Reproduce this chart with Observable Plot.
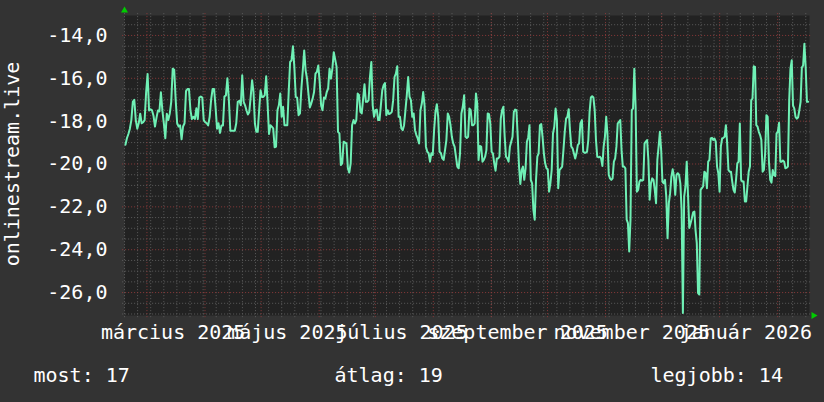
<!DOCTYPE html>
<html><head><meta charset="utf-8">
<script src="https://cdn.jsdelivr.net/npm/d3@7"></script>
<script src="https://cdn.jsdelivr.net/npm/@observablehq/plot@0.6"></script>
<style>
html,body{margin:0;padding:0;background:#333333;}
#chart{width:824px;height:402px;}
</style></head><body><div id="chart"></div>
<script>
// ---- data ----
const startDate = "2025-02-17";
const endDate = "2026-02-18";
// series values, read in six consecutive stretches of roughly two months
const s1 = [-19.1, -18.8, -18.6, -18.35, -17.95, -17.1, -17.0, -17.95, -18.35, -18.1, -17.65, -18.1, -18.05, -17.95, -16.65, -15.8, -17.5, -17.45, -17.5, -17.75, -18.25, -17.85, -17.5, -17.55, -16.65, -17.5, -18.1, -18.8, -17.65, -17.95, -17.65, -17.1, -15.55, -15.6, -17.0, -18.1, -18.25, -18.2, -18.85, -18.25, -18.1, -16.6, -16.5, -16.5, -17.5, -17.9, -17.8, -17.9, -17.4, -17.9, -16.9, -16.85, -16.9, -17.95, -18.05, -18.1, -18.2, -17.8, -17.0, -16.5, -16.5, -17.35, -18.35, -18.1, -18.55, -18.2, -18.2, -16.85, -16.8, -16.0, -17.0, -18.45, -18.45, -18.45, -18.45, -18.1, -17.1];
const s2 = [-17.05, -17.26, -15.86, -17.1, -17.26, -17.49, -17.69, -17.57, -16.87, -16.09, -16.64, -18.11, -18.5, -18.5, -17.49, -16.56, -16.87, -16.87, -16.79, -15.91, -17.18, -18.6, -18.19, -18.26, -18.34, -19.22, -19.19, -17.49, -17.26, -16.71, -17.8, -17.33, -18.19, -18.19, -18.19, -16.64, -15.24, -15.16, -14.51, -15.47, -16.87, -16.9, -17.72, -17.64, -16.48, -15.63, -14.7, -15.63, -16.02, -16.71, -17.36, -17.18, -16.95, -16.64, -15.78, -15.7, -15.4, -16.17, -17.26, -17.49, -16.9, -16.95, -16.64, -16.48, -15.55, -16.02, -15.55, -14.78, -15.13, -15.47, -18.5, -18.57, -20.05, -19.97, -18.96, -19.0, -19.04, -20.2, -20.4, -19.97, -18.19];
const s3 = [-17.95, -18.11, -17.95, -16.71, -16.79, -17.57, -17.64, -16.95, -16.28, -17.1, -17.1, -17.02, -15.94, -15.24, -17.26, -17.8, -17.49, -17.46, -17.95, -17.95, -17.26, -16.56, -16.33, -16.22, -17.72, -17.49, -17.67, -17.64, -17.57, -17.02, -15.94, -15.78, -15.44, -17.8, -17.8, -18.34, -18.42, -18.19, -17.49, -16.79, -15.94, -16.87, -17.02, -17.8, -17.64, -18.42, -18.65, -18.81, -19.04, -17.49, -17.18, -16.64, -17.26, -19.19, -19.43, -19.5, -19.89, -19.5, -19.58, -18.42, -17.57, -17.21, -17.8, -19.43, -19.5, -19.74, -19.81, -19.35, -18.88, -17.64, -17.8, -18.19, -18.73, -19.04, -19.19, -19.66, -20.12, -20.2, -19.5, -17.64, -17.33, -16.79, -18.73];
const s4 = [-18.78, -18.73, -17.41, -17.49, -18.19, -18.19, -18.11, -16.71, -17.18, -19.81, -19.16, -19.19, -19.89, -19.81, -19.66, -19.35, -17.64, -17.67, -18.11, -19.43, -19.5, -19.97, -20.31, -19.74, -19.74, -19.66, -17.88, -17.49, -17.33, -18.73, -19.66, -19.74, -19.89, -19.19, -18.96, -18.73, -17.57, -17.46, -17.49, -18.73, -20.12, -20.93, -20.28, -20.12, -20.74, -20.2, -18.96, -18.76, -18.19, -20.74, -20.9, -22.14, -22.6, -20.74, -19.66, -19.5, -18.19, -18.14, -18.73, -19.5, -19.97, -20.2, -20.25, -21.29, -20.9, -20.28, -18.57, -18.26, -17.41, -17.95, -21.13, -20.28, -20.2, -20.12, -19.35, -18.5, -17.88, -17.8, -17.44, -18.42, -19.19, -19.27, -19.5, -19.74, -19.5, -19.12, -19.04, -18.11];
const s5 = [-17.95, -19.43, -19.47, -19.47, -19.43, -18.88, -17.57, -16.9, -16.84, -16.9, -17.49, -18.88, -19.66, -19.69, -19.66, -19.74, -20.09, -19.19, -18.73, -17.8, -18.65, -20.51, -20.67, -20.74, -20.67, -19.89, -19.74, -19.19, -18.11, -18.03, -17.95, -19.35, -20.12, -20.12, -20.2, -22.6, -22.76, -24.08, -22.6, -17.49, -17.41, -15.55, -17.33, -21.29, -21.21, -20.82, -20.74, -20.78, -20.74, -19.04, -18.96, -18.88, -19.81, -21.67, -20.9, -20.67, -20.74, -21.21, -21.83, -19.81, -19.19, -18.5, -19.35, -20.82, -20.9, -20.74, -21.52, -23.46, -21.83, -21.36, -20.59, -20.25, -20.59, -21.44, -20.51, -20.43, -20.51, -20.9, -22.14, -26.95, -21.52, -21.05, -19.89, -21.44, -22.99, -22.76, -22.53, -22.26, -22.22];
const s6 = [-23.07, -23.69, -26.02, -26.09, -21.21, -21.13, -21.05, -20.36, -20.43, -21.13, -19.89, -19.81, -18.81, -18.78, -18.88, -18.81, -18.96, -20.12, -20.43, -21.29, -19.19, -18.81, -18.78, -18.73, -18.19, -19.04, -20.28, -20.36, -20.36, -20.82, -21.21, -21.33, -20.74, -19.97, -19.89, -18.11, -20.74, -20.82, -20.82, -21.75, -21.75, -21.05, -20.36, -20.12, -17.02, -16.95, -15.44, -15.47, -18.19, -18.26, -18.5, -18.65, -18.88, -20.36, -20.28, -19.5, -17.72, -17.8, -19.89, -20.74, -20.87, -20.28, -20.51, -20.56, -18.57, -18.5, -18.08, -19.89, -19.89, -19.84, -19.89, -20.2, -20.17, -20.12, -17.02, -15.55, -15.16, -17.26, -17.41, -17.8, -17.88, -17.83, -17.49, -17.1, -15.5, -15.4, -14.39, -15.47, -17.1, -17.1];
// first / last day (days after startDate) of each stretch
const stretchStartDay = [0.5, 61.4, 122.4, 182.9, 244.4, 305.1];
const stretchEndDay = [60.5, 121.6, 182.2, 243.6, 304.5, 365.3];

const yMin = -27.07, yMax = -13.07;
const yMajorTicks = [-26, -24, -22, -20, -18, -16, -14];
const xLabelDates = ["2025-03-15", "2025-05-15", "2025-07-15", "2025-09-15", "2025-11-15", "2026-01-15"];
const xLabelTexts = ["március 2025", "május 2025", "július 2025", "szeptember 2025", "november 2025", "január 2026"];
const yTitle = "onlinestream.live";
const legendLabels = ["most", "átlag", "legjobb"];
const legendValues = [17, 19, 14];

// ---- build ----
const DAY = 864e5;
const t0 = new Date(startDate + "T00:00:00Z");
const t1 = new Date(endDate + "T00:00:00Z");
const stretches = [s1, s2, s3, s4, s5, s6];
const rows = stretches.flatMap((vals, k) => vals.map((v, i) => ({
  date: new Date(+t0 + (stretchStartDay[k] + (stretchEndDay[k] - stretchStartDay[k]) * i / (vals.length - 1)) * DAY),
  value: v
})));

const minorY = d3.range(-27, -13, 0.5).filter(v => !yMajorTicks.includes(v));
const weeks = d3.utcMonday.range(t0, t1);
const months = d3.utcMonth.range(t0, t1);
const xLabels = xLabelDates.map((d, i) => ({date: new Date(d + "T00:00:00Z"), text: xLabelTexts[i]}));
const FONT = "DejaVu Sans Mono";
const xExt1 = new Date(+t0 - DAY), xExt2 = new Date(+t1 + DAY);
const yExt = 0.1;

const legendDx = [-91, 210, 526];

const chart = Plot.plot({
  width: 824, height: 402,
  marginLeft: 124, marginRight: 15, marginTop: 15, marginBottom: 87,
  style: {background: "#333333", fontFamily: FONT, fontSize: "20px", color: "#ffffff"},
  x: {type: "utc", domain: [t0, t1], axis: null},
  y: {domain: [yMin, yMax], axis: null},
  marks: [
    Plot.frame({fill: "#222222", stroke: null}),
    Plot.ruleY(minorY, {x1: () => xExt1, x2: () => xExt2, stroke: "#5c5c5c", strokeDasharray: "1,2"}),
    Plot.ruleX(weeks, {y1: yMin - yExt, y2: yMax + yExt, stroke: "#5c5c5c", strokeDasharray: "1,2"}),
    Plot.ruleY(yMajorTicks, {x1: () => xExt1, x2: () => xExt2, stroke: "#8c3a3a", strokeDasharray: "1,2"}),
    Plot.ruleX(months, {y1: yMin - yExt, y2: yMax + yExt, stroke: "#8c3a3a", strokeDasharray: "1,2"}),
    Plot.line(rows, {x: "date", y: "value", stroke: "#6ff0b5", strokeWidth: 2}),
    Plot.dot([t0], {x: d => d, y: () => yMax, dy: -5, symbol: "triangle", r: 2.6, fill: "#00cc00", stroke: null}),
    Plot.dot([t1], {x: d => d, y: () => yMin, dx: 4, symbol: "triangle", r: 2.6, rotate: 90, fill: "#00cc00", stroke: null}),
    Plot.text(yMajorTicks, {frameAnchor: "left", y: d => d, text: d => d.toFixed(1).replace(".", ","), textAnchor: "end", dx: -17, fill: "#ffffff", fontSize: 20, fontFamily: FONT}),
    Plot.text(xLabels, {x: "date", frameAnchor: "bottom", text: "text", lineAnchor: "bottom", dy: 23, fill: "#ffffff", fontSize: 20, fontFamily: FONT}),
    Plot.text([yTitle], {frameAnchor: "left", text: d => d, rotate: -90, lineAnchor: "bottom", textAnchor: "middle", dx: -105.5, dy: -1.5, fill: "#ffffff", fontSize: 20, fontFamily: FONT}),
    ...legendLabels.map((lab, i) => Plot.text([lab + ": " + legendValues[i]], {frameAnchor: "bottom-left", text: d => d, textAnchor: "start", lineAnchor: "bottom", dx: legendDx[i], dy: 66, fill: "#ffffff", fontSize: 20, fontFamily: FONT}))
  ]
});
document.getElementById("chart").appendChild(chart);
</script></body></html>
